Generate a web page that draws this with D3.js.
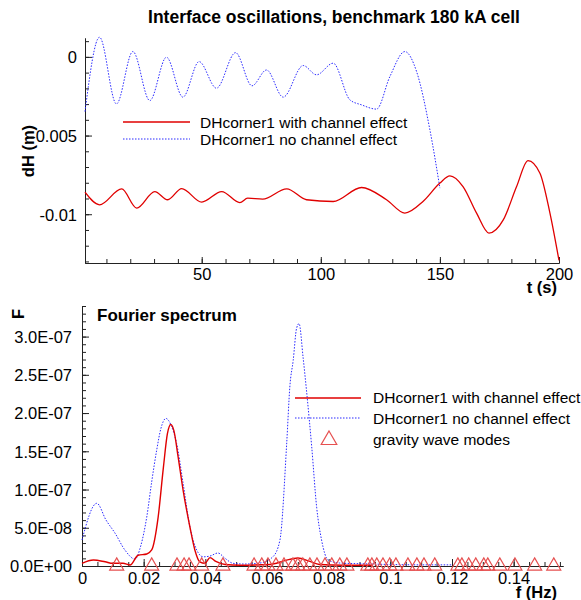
<!DOCTYPE html>
<html><head><meta charset="utf-8">
<script src="https://cdn.jsdelivr.net/npm/d3@7"></script>
<style>
body{margin:0;background:#fff;}
svg text{font-family:"Liberation Sans",Arial,Helvetica,sans-serif;fill:#000;}
</style></head>
<body><svg id="c" width="581" height="600"></svg>
<script>
// ---------- data: top chart (time series) ----------
const topTitle = "Interface oscillations, benchmark 180 kA cell";
const withChannelT = [1,7.1,16.4,22.7,30.3,35.7,41.6,50,58.4,66,69.3,75.6,85.7,94,105.2,117.1,127.6,135.3,142.9,150,154.2,159.7,165.4,170.6,176.6,182.2,187,192,196.2,200];
const withChannelH = [-0.0086,-0.0094,-0.00839,-0.00961,-0.00856,-0.00908,-0.00837,-0.00923,-0.00856,-0.00926,-0.00898,-0.00904,-0.00839,-0.00908,-0.00919,-0.0083,-0.00908,-0.00993,-0.00919,-0.00802,-0.00756,-0.00824,-0.00993,-0.0112,-0.01036,-0.00824,-0.00659,-0.00739,-0.00993,-0.01294];
const noChannelT = [1,7.1,14.2,21.1,28.2,35.2,42.1,48.9,56.2,64.2,71.1,77.2,84.2,92.6,98.2,105.2,112.2,117.1,123.4,129,135.3,140.2,145.8,150];
const noChannelH = [-0.00348,0.00125,-0.00299,0.00034,-0.00278,-0.00002,-0.00256,-0.0003,-0.00199,0.00027,-0.00184,-0.00083,-0.00256,-0.00055,-0.00114,-0.0004,-0.00273,-0.00305,-0.00332,-0.00125,0.00034,-0.00093,-0.00464,-0.00834];
const topYTicks = [0,-0.005,-0.01];
const topXTicks = [50,100,150,200];

// ---------- data: bottom chart (Fourier spectrum) ----------
const spectrumWithF = [0,0.0037,0.0075,0.01,0.0133,0.0156,0.0182,0.021,0.0226,0.0247,0.0264,0.0277,0.0288,0.0298,0.0312,0.0328,0.035,0.0366,0.0382,0.0399,0.0415,0.0434,0.0464,0.0512,0.061,0.0658,0.07,0.0739,0.077,0.085,0.094];
const spectrumWithA = [3.5e-9,7.8e-9,5.5e-9,3.5e-9,3.5e-9,1.3e-9,1.4e-8,1.57e-8,2.1e-8,6.4e-8,1.29e-7,1.73e-7,1.85e-7,1.77e-7,1.42e-7,9.9e-8,5.1e-8,2.1e-8,5.5e-9,3.5e-9,1.1e-8,6e-9,2e-9,1e-9,2e-9,7e-9,1.05e-8,6e-9,2e-9,1e-9,1e-9];
const spectrumNoF = [0,0.0048,0.0078,0.0107,0.0139,0.0172,0.0191,0.021,0.0226,0.0242,0.0256,0.0272,0.0289,0.0307,0.0328,0.035,0.0372,0.0393,0.0415,0.0441,0.0464,0.049,0.0528,0.0577,0.0619,0.0642,0.0664,0.0674,0.0685,0.0696,0.0704,0.0717,0.0728,0.0745,0.0761,0.0777,0.0798,0.0836,0.09,0.1,0.11,0.12];
const spectrumNoA = [3.4e-8,8.2e-8,6.0e-8,4.3e-8,2.1e-8,9e-9,2.7e-8,6.4e-8,1.1e-7,1.51e-7,1.8e-7,1.93e-7,1.84e-7,1.6e-7,1.08e-7,5.1e-8,2.1e-8,1.2e-8,1.3e-8,1.7e-8,1.0e-8,3.5e-9,2.6e-9,3.9e-9,1.2e-8,3.4e-8,1.61e-7,2.34e-7,2.69e-7,3.11e-7,3.17e-7,2.73e-7,2.3e-7,1.56e-7,7.7e-8,3.4e-8,7.8e-9,3.9e-9,3e-9,2e-9,1.5e-9,1.5e-9];
const gravityModes = [0.01125,0.0226,0.0308,0.0331,0.0347,0.0388,0.0457,0.0558,0.0583,0.0603,0.0629,0.0655,0.0684,0.0700,0.0716,0.0739,0.0762,0.0788,0.0810,0.0836,0.0859,0.0927,0.0940,0.0956,0.0976,0.0998,0.1018,0.1057,0.1086,0.1109,0.1144,0.1219,0.1232,0.1254,0.1277,0.1303,0.1316,0.1355,0.1404,0.1468,0.1530];
const botYTicks = [0,0.5e-7,1.0e-7,1.5e-7,2.0e-7,2.5e-7,3.0e-7];
const botXTicks = [0,0.02,0.04,0.06,0.08,0.1,0.12,0.14];
const legendLabels = ["DHcorner1 with channel effect","DHcorner1 no channel effect","gravity wave modes"];

const RED = "#e00000", BLUE = "#2a2aff", TRI = "#e65050", AX = "#222";
const svg = d3.select("#c");

// ================= TOP CHART =================
const xT = d3.scaleLinear().domain([1,200]).range([85,559]);
const yT = d3.scaleLinear().domain([-0.0131,0.0012]).range([263,38]);

svg.append("text").attr("x",334).attr("y",23).attr("text-anchor","middle")
  .style("font-size","17.5px").style("font-weight","bold").text(topTitle);

function styleAxis(g){
  g.selectAll("path.domain").attr("stroke",AX).attr("stroke-width",1);
  g.selectAll(".tick line").attr("stroke",AX);
}
svg.append("g").attr("transform","translate(85,0)")
  .call(d3.axisLeft(yT).tickValues(d3.range(-0.013,0.0011,0.001)).tickSize(-4).tickSizeOuter(0).tickFormat(""))
  .call(styleAxis);
svg.append("g").attr("transform","translate(0,263)")
  .call(d3.axisBottom(xT).tickValues(d3.range(10,201,10)).tickSize(-4).tickSizeOuter(0).tickFormat(""))
  .call(styleAxis);
const gyT = svg.append("g").attr("transform","translate(85,0)")
  .call(d3.axisLeft(yT).tickValues(topYTicks).tickSize(-7).tickPadding(8).tickSizeOuter(0).tickFormat(d=>String(d)))
  .call(styleAxis);
gyT.selectAll("text").style("font-size","16.5px").attr("dy","0.35em");
const gxT = svg.append("g").attr("transform","translate(0,263)")
  .call(d3.axisBottom(xT).tickValues(topXTicks).tickSize(-6).tickPadding(5).tickSizeOuter(0).tickFormat(d=>String(d)))
  .call(styleAxis);
gxT.selectAll("text").style("font-size","16.5px").attr("dy","0").attr("y",17);

const lineT = d3.line().x(d=>xT(d[0])).y(d=>yT(d[1])).curve(d3.curveMonotoneX);
svg.append("path").datum(noChannelT.map((t,i)=>[t,noChannelH[i]]))
  .attr("d",lineT).attr("fill","none").attr("stroke",BLUE).attr("stroke-width",1).attr("stroke-dasharray","1.5,1.5");
svg.append("path").datum(withChannelT.map((t,i)=>[t,withChannelH[i]]))
  .attr("d",lineT).attr("fill","none").attr("stroke",RED).attr("stroke-width",1.3);

svg.append("text").attr("transform","translate(34,151) rotate(-90)").attr("text-anchor","middle")
  .style("font-size","16.5px").style("font-weight","bold").text("dH (m)");
svg.append("text").attr("x",557).attr("y",293).attr("text-anchor","end")
  .style("font-size","16.5px").style("font-weight","bold").text("t (s)");

svg.append("line").attr("x1",123).attr("x2",190).attr("y1",122).attr("y2",122).attr("stroke",RED).attr("stroke-width",1.3);
svg.append("line").attr("x1",123).attr("x2",190).attr("y1",139).attr("y2",139).attr("stroke",BLUE).attr("stroke-width",1).attr("stroke-dasharray","1.5,1.5");
svg.append("text").attr("x",200).attr("y",128).style("font-size","15.5px").text(legendLabels[0]);
svg.append("text").attr("x",200).attr("y",145).style("font-size","15.5px").text(legendLabels[1]);

// ================= BOTTOM CHART =================
const xB = d3.scaleLinear().domain([0,0.156]).range([82,563]);
const yB = d3.scaleLinear().domain([0,3.4e-7]).range([566,306]);

function expFmt(d){
  const s = d.toExponential(1).split("e");
  const e = parseInt(s[1],10);
  return s[0] + "E" + (e<0?"-":"+") + String(Math.abs(e)).padStart(2,"0");
}
svg.append("g").attr("transform","translate(82,0)")
  .call(d3.axisLeft(yB).tickValues(d3.range(0,3.41e-7,1e-8)).tickSize(-4).tickSizeOuter(0).tickFormat(""))
  .call(styleAxis);
svg.append("g").attr("transform","translate(0,566)")
  .call(d3.axisBottom(xB).tickValues(d3.range(0,0.1561,0.005)).tickSize(-4).tickSizeOuter(0).tickFormat(""))
  .call(styleAxis);
const gyB = svg.append("g").attr("transform","translate(82,0)")
  .call(d3.axisLeft(yB).tickValues(botYTicks).tickSize(-7).tickPadding(10).tickSizeOuter(0).tickFormat(expFmt))
  .call(styleAxis);
gyB.selectAll("text").style("font-size","16.5px").attr("dy","0.35em");
const gxB = svg.append("g").attr("transform","translate(0,566)")
  .call(d3.axisBottom(xB).tickValues(botXTicks).tickSize(-7).tickSizeOuter(0).tickFormat(d=>String(+d.toFixed(2))))
  .call(styleAxis);
gxB.selectAll("text").style("font-size","16.5px").attr("dy","0").attr("y",18);

const lineB = d3.line().x(d=>xB(d[0])).y(d=>yB(d[1])).curve(d3.curveMonotoneX);
svg.append("path").datum(spectrumNoF.map((f,i)=>[f,spectrumNoA[i]]))
  .attr("d",lineB).attr("fill","none").attr("stroke",BLUE).attr("stroke-width",1).attr("stroke-dasharray","1.5,1.5");
svg.append("path").datum(spectrumWithF.map((f,i)=>[f,spectrumWithA[i]]))
  .attr("d",lineB).attr("fill","none").attr("stroke",RED).attr("stroke-width",1.4);

const tri = d3.symbol().type(d3.symbolTriangle).size(85);
svg.append("g").selectAll("path").data(gravityModes).join("path")
  .attr("transform",d=>`translate(${xB(d)},${yB(0)})`).attr("d",tri)
  .attr("fill","none").attr("stroke",TRI).attr("stroke-width",1.2);

svg.append("text").attr("x",97).attr("y",321).style("font-size","17px").style("font-weight","bold").text("Fourier spectrum");
svg.append("text").attr("transform","translate(24,314) rotate(-90)").attr("text-anchor","middle")
  .style("font-size","16.5px").style("font-weight","bold").text("F");
svg.append("text").attr("x",557).attr("y",598).attr("text-anchor","end")
  .style("font-size","16.5px").style("font-weight","bold").text("f (Hz)");

svg.append("line").attr("x1",295).attr("x2",361).attr("y1",398).attr("y2",398).attr("stroke",RED).attr("stroke-width",1.4);
svg.append("line").attr("x1",295).attr("x2",361).attr("y1",418).attr("y2",418).attr("stroke",BLUE).attr("stroke-width",1).attr("stroke-dasharray","1.5,1.5");
svg.append("path").attr("transform","translate(329,440)").attr("d",d3.symbol().type(d3.symbolTriangle).size(105))
  .attr("fill","none").attr("stroke",TRI).attr("stroke-width",1.2);
svg.append("text").attr("x",373).attr("y",403).style("font-size","15.5px").text(legendLabels[0]);
svg.append("text").attr("x",373).attr("y",424).style("font-size","15.5px").text(legendLabels[1]);
svg.append("text").attr("x",373).attr("y",445).style("font-size","15.5px").text(legendLabels[2]);
</script></body></html>
